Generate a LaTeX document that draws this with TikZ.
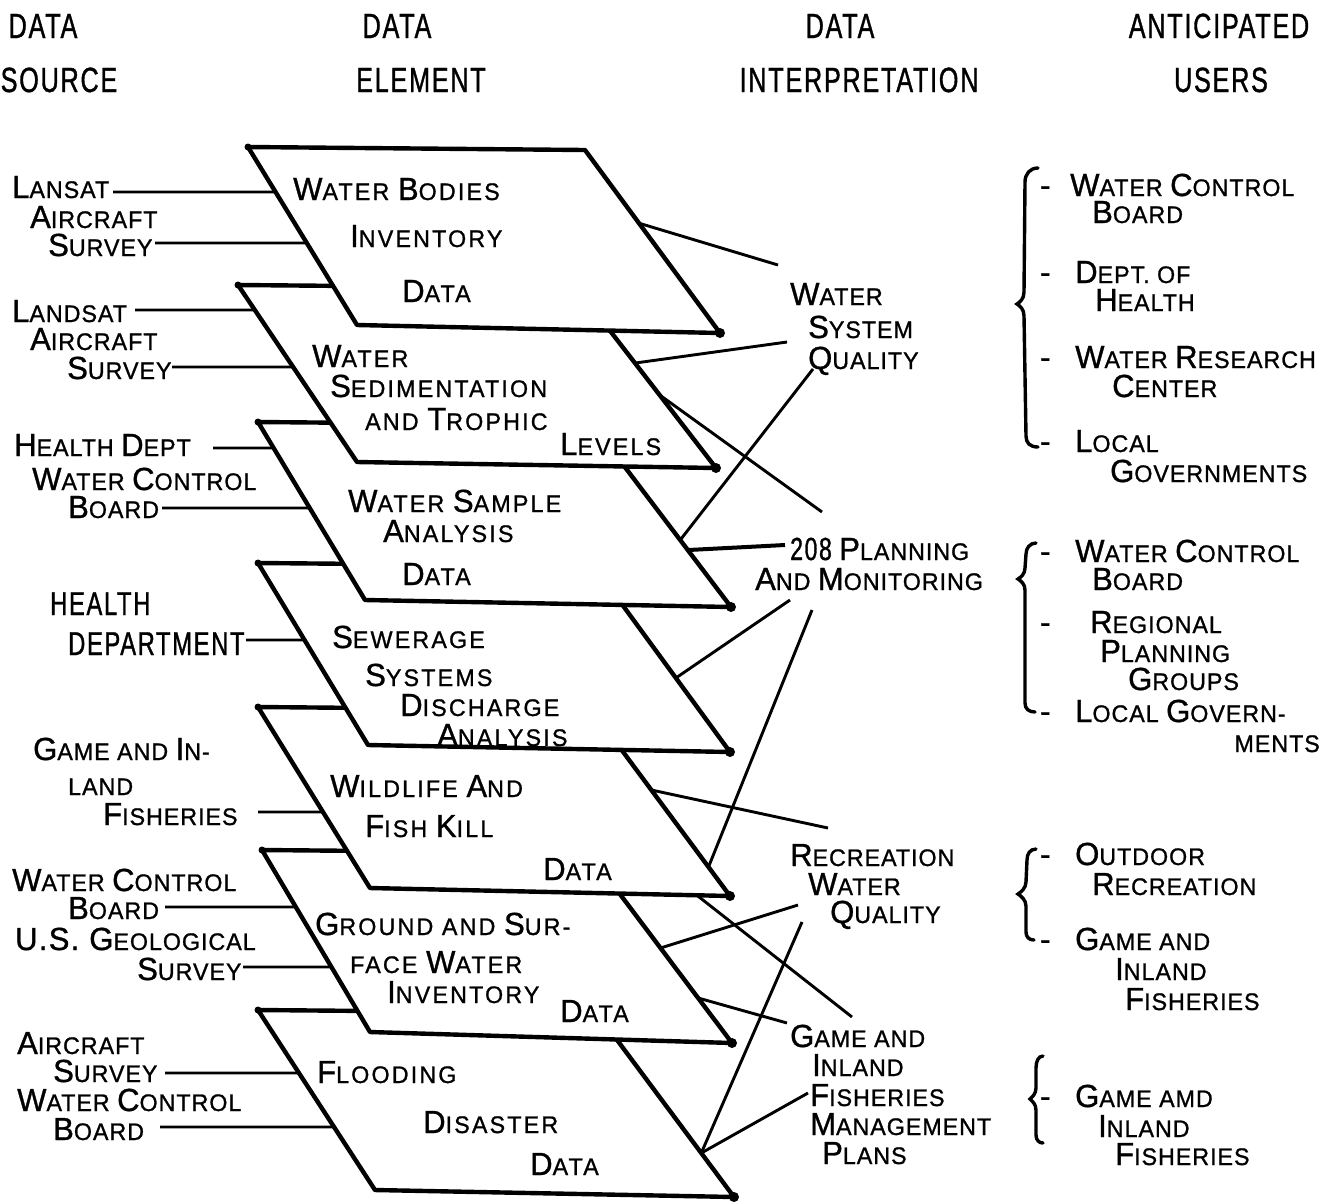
\documentclass[tikz,border=0pt]{standalone}
\usepackage{fontspec}
\setmainfont{Liberation Sans}[FakeStretch=0.97, LetterSpace=4, FakeBold=1]
\newfontfamily\spfont{Liberation Sans}[FakeStretch=0.97, LetterSpace=9, FakeBold=1]
\newfontfamily\hdrfont{Liberation Sans}[FakeStretch=0.72, LetterSpace=5, FakeBold=1]
\usetikzlibrary{calc}
\newcommand\Bg[1]{{\fontsize{32}{32}\selectfont #1}}
\tikzset{
 lbl/.style={anchor=base west, inner sep=0pt, font=\fontsize{24}{24}\selectfont},
 lbls/.style={anchor=base west, inner sep=0pt, font=\spfont\fontsize{24}{24}\selectfont},
 lblr/.style={anchor=base east, inner sep=0pt, font=\fontsize{24}{24}\selectfont},
 hdr/.style={anchor=base, inner sep=0pt, font=\hdrfont\fontsize{35}{35}\selectfont},
 hdrl/.style={anchor=base west, inner sep=0pt, font=\hdrfont\fontsize{33}{33}\selectfont},
 sheet/.style={draw, fill=white, line width=4.4pt, line join=round},
 conn/.style={line width=2.9pt},
 src/.style={line width=2.9pt},
 brk/.style={line width=3.4pt, line cap=round},
}
\begin{document}
\begin{tikzpicture}[x=1pt,y=-1pt]
\useasboundingbox (0,0) rectangle (1327,1203);
% ---------- headers
\node[hdr] (hsrc1) at (43,38) {DATA};
\node[hdr] (hsrc2) at (59,92) {SOURCE};
\node[hdr] (hel1) at (397,38) {DATA};
\node[hdr] (hel2) at (421,92) {ELEMENT};
\node[hdr] (hin1) at (840,38) {DATA};
\node[hdr] (hin2) at (859,92) {INTERPRETATION};
\node[hdr] (hus1) at (1219,38) {ANTICIPATED};
\node[hdr] (hus2) at (1221,92) {USERS};
% ---------- sheet corners
\coordinate (s1tl) at (248,147);  \coordinate (s1tr) at (585,150);  \coordinate (s1br) at (720,333);  \coordinate (s1bl) at (357,325);
\coordinate (s2tl) at (238,285);  \coordinate (s2tr) at (577,288);  \coordinate (s2br) at (716,468);  \coordinate (s2bl) at (357,462);
\coordinate (s3tl) at (258,422);  \coordinate (s3tr) at (593,425);  \coordinate (s3br) at (731,607);  \coordinate (s3bl) at (365,600);
\coordinate (s4tl) at (258,563);  \coordinate (s4tr) at (594,566);  \coordinate (s4br) at (730,752);  \coordinate (s4bl) at (368,745);
\coordinate (s5tl) at (258,707);  \coordinate (s5tr) at (592,710);  \coordinate (s5br) at (730,896);  \coordinate (s5bl) at (370,888);
\coordinate (s6tl) at (262,850);  \coordinate (s6tr) at (589,853);  \coordinate (s6br) at (732,1043); \coordinate (s6bl) at (370,1032);
\coordinate (s7tl) at (258,1010); \coordinate (s7tr) at (597,1013); \coordinate (s7br) at (734,1197); \coordinate (s7bl) at (375,1190);
% ---------- sheets, back to front
\foreach \s in {7,6,5,4,3,2,1}{
  \draw[sheet] (s\s tl) -- (s\s tr) -- (s\s br) -- (s\s bl) -- cycle;
  \fill (s\s br) circle (5);
  \fill (s\s tl) circle (3.5);
}
% ---------- sheet texts
\node[lbls] (e1a) at (293,200) {\Bg{W}ATER \Bg{B}ODIES};
\node[lbls] (e1b) at (350,247) {\Bg{I}NVENTORY};
\node[lbls] (e1c) at (402,302) {\Bg{D}ATA};
\node[lbls] (e2a) at (312,367) {\Bg{W}ATER};
\node[lbls] (e2b) at (330,397) {\Bg{S}EDIMENTATION};
\node[lbls] (e2c) at (365,430) {AND \Bg{T}ROPHIC};
\node[lbls] (e2d) at (560,455) {\Bg{L}EVELS};
\node[lbls] (e3a) at (348,512) {\Bg{W}ATER \Bg{S}AMPLE};
\node[lbls] (e3b) at (383,542) {\Bg{A}NALYSIS};
\node[lbls] (e3c) at (402,585) {\Bg{D}ATA};
\node[lbls] (e4a) at (332,648) {\Bg{S}EWERAGE};
\node[lbls] (e4b) at (365,686) {\Bg{S}YSTEMS};
\node[lbls] (e4c) at (400,716) {\Bg{D}ISCHARGE};
\node[lbls] (e4d) at (437,746) {\Bg{A}NALYSIS};
\node[lbls] (e5a) at (330,797) {\Bg{W}ILDLIFE \Bg{A}ND};
\node[lbls] (e5b) at (365,837) {\Bg{F}ISH \Bg{K}ILL};
\node[lbls] (e5c) at (543,880) {\Bg{D}ATA};
\node[lbls] (e6a) at (315,935) {\Bg{G}ROUND AND \Bg{S}UR-};
\node[lbls] (e6b) at (350,973) {FACE \Bg{W}ATER};
\node[lbls] (e6c) at (387,1003) {\Bg{I}NVENTORY};
\node[lbls] (e6d) at (560,1022) {\Bg{D}ATA};
\node[lbls] (e7a) at (317,1083) {\Bg{F}LOODING};
\node[lbls] (e7b) at (423,1133) {\Bg{D}ISASTER};
\node[lbls] (e7c) at (530,1175) {\Bg{D}ATA};
% ---------- data sources
\node[lbl] (d1a) at (12,198) {\Bg{L}ANSAT};
\node[lbl] (d1b) at (30,228) {\Bg{A}IRCRAFT};
\node[lbl] (d1c) at (48,256) {\Bg{S}URVEY};
\node[lbl] (d2a) at (12,322) {\Bg{L}ANDSAT};
\node[lbl] (d2b) at (30,350) {\Bg{A}IRCRAFT};
\node[lbl] (d2c) at (67,379) {\Bg{S}URVEY};
\node[lbl] (d3a) at (14,456) {\Bg{H}EALTH \Bg{D}EPT};
\node[lbl] (d3b) at (32,490) {\Bg{W}ATER \Bg{C}ONTROL};
\node[lbl] (d3c) at (68,518) {\Bg{B}OARD};
\node[hdrl] (d4a) at (50,615) {HEALTH};
\node[hdrl] (d4b) at (68,655) {DEPARTMENT};
\node[lbl] (d5a) at (33,760) {\Bg{G}AME AND \Bg{I}N-};
\node[lbl] (d5b) at (68,795) {LAND};
\node[lbl] (d5c) at (103,825) {\Bg{F}ISHERIES};
\node[lbl] (d6a) at (12,891) {\Bg{W}ATER \Bg{C}ONTROL};
\node[lbl] (d6b) at (68,919) {\Bg{B}OARD};
\node[lbl] (d6c) at (15,950) {\Bg{U.S. G}EOLOGICAL};
\node[lbl] (d6d) at (137,980) {\Bg{S}URVEY};
\node[lbl] (d7a) at (17,1054) {\Bg{A}IRCRAFT};
\node[lbl] (d7b) at (53,1082) {\Bg{S}URVEY};
\node[lbl] (d7c) at (17,1111) {\Bg{W}ATER \Bg{C}ONTROL};
\node[lbl] (d7d) at (53,1140) {\Bg{B}OARD};
% ---------- source lines to sheet edges
\draw[src] (113,192) -- ($(s1tl)!0.253!(s1bl)$);
\draw[src] (155,243) -- ($(s1tl)!0.539!(s1bl)$);
\draw[src] (135,310) -- ($(s2tl)!0.141!(s2bl)$);
\draw[src] (172,367) -- ($(s2tl)!0.463!(s2bl)$);
\draw[src] (213,448) -- ($(s3tl)!0.146!(s3bl)$);
\draw[src] (162,508) -- ($(s3tl)!0.483!(s3bl)$);
\draw[src] (246,640) -- ($(s4tl)!0.423!(s4bl)$);
\draw[src] (258,812) -- ($(s5tl)!0.580!(s5bl)$);
\draw[src] (165,907) -- ($(s6tl)!0.313!(s6bl)$);
\draw[src] (243,967) -- ($(s6tl)!0.643!(s6bl)$);
\draw[src] (165,1073) -- ($(s7tl)!0.350!(s7bl)$);
\draw[src] (160,1127) -- ($(s7tl)!0.650!(s7bl)$);
% ---------- interpretation labels
\node[lbl] (i1a) at (790,305) {\Bg{W}ATER};
\node[lbl] (i1b) at (808,338) {\Bg{S}YSTEM};
\node[lbl] (i1c) at (808,369) {\Bg{Q}UALITY};
\node[lbl] (i2a) at (790,560) {{\hdrfont\fontsize{32}{32}\selectfont 208} \Bg{P}LANNING};
\node[lbl] (i2b) at (755,590) {\Bg{A}ND \Bg{M}ONITORING};
\node[lbl] (i3a) at (790,866) {\Bg{R}ECREATION};
\node[lbl] (i3b) at (808,895) {\Bg{W}ATER};
\node[lbl] (i3c) at (830,923) {\Bg{Q}UALITY};
\node[lbl] (i4a) at (790,1047) {\Bg{G}AME AND};
\node[lbl] (i4b) at (812,1076) {\Bg{I}NLAND};
\node[lbl] (i4c) at (810,1106) {\Bg{F}ISHERIES};
\node[lbl] (i4d) at (810,1135) {\Bg{M}ANAGEMENT};
\node[lbl] (i4e) at (822,1164) {\Bg{P}LANS};
% connector end points at the interpretation labels
\coordinate (wsqA) at (778,265);
\coordinate (wsqB) at (787,342);
\coordinate (wsqC) at (813,369);
\coordinate (pmA) at (822,512);
\coordinate (pmB) at (785,545);
\coordinate (pmC) at (790,600);
\coordinate (pmD) at (812,610);
\coordinate (rwqA) at (828,828);
\coordinate (rwqB) at (798,905);
\coordinate (rwqC) at (802,922);
\coordinate (gifA) at (852,1017);
\coordinate (gifB) at (787,1023);
\coordinate (gifC) at (808,1093);
% ---------- connectors
\draw[conn] ($(s1tr)!0.40!(s1br)$) -- (wsqA);
\draw[conn] ($(s2tr)!0.417!(s2br)$) -- (wsqB);
\draw[conn] ($(s2tr)!0.594!(s2br)$) -- (pmA);
\draw[conn] ($(s3tr)!0.632!(s3br)$) -- (wsqC);
\draw[conn, line width=4pt] ($(s3tr)!0.687!(s3br)$) -- (pmB);
\draw[conn] ($(s4tr)!0.602!(s4br)$) -- (pmC);
\draw[conn] ($(s5tr)!0.844!(s5br)$) -- (pmD);
\draw[conn] ($(s5tr)!0.43!(s5br)$) -- (rwqA);
\draw[conn] ($(s6tr)!0.5!(s6br)$) -- (rwqB);
\draw[conn] ($(s5bl)!0.908!(s5br)$) -- (gifA);
\draw[conn] ($(s6tr)!0.763!(s6br)$) -- (gifB);
\draw[conn] ($(s7tr)!0.761!(s7br)$) -- (rwqC);
\draw[conn] ($(s7tr)!0.761!(s7br)$) -- (gifC);
% ---------- anticipated users
\node[lbl] (u1a) at (1070,196) {\Bg{W}ATER \Bg{C}ONTROL};
\node[lbl] (u1b) at (1092,223) {\Bg{B}OARD};
\node[lbl] (u2a) at (1075,283) {\Bg{D}EPT. OF};
\node[lbl] (u2b) at (1095,311) {\Bg{H}EALTH};
\node[lbl] (u3a) at (1075,368) {\Bg{W}ATER \Bg{R}ESEARCH};
\node[lbl] (u3b) at (1112,397) {\Bg{C}ENTER};
\node[lbl] (u4a) at (1075,452) {\Bg{L}OCAL};
\node[lbl] (u4b) at (1110,482) {\Bg{G}OVERNMENTS};
\node[lbl] (u5a) at (1075,562) {\Bg{W}ATER \Bg{C}ONTROL};
\node[lbl] (u5b) at (1092,590) {\Bg{B}OARD};
\node[lbl] (u6a) at (1090,633) {\Bg{R}EGIONAL};
\node[lbl] (u6b) at (1100,662) {\Bg{P}LANNING};
\node[lbl] (u6c) at (1128,690) {\Bg{G}ROUPS};
\node[lbl] (u7a) at (1075,722) {\Bg{L}OCAL \Bg{G}OVERN-};
\node[lblr] (u7b) at (1320,752) {MENTS};
\node[lbl] (u8a) at (1075,865) {\Bg{O}UTDOOR};
\node[lbl] (u8b) at (1092,895) {\Bg{R}ECREATION};
\node[lbl] (u9a) at (1075,950) {\Bg{G}AME AND};
\node[lbl] (u9b) at (1115,980) {\Bg{I}NLAND};
\node[lbl] (u9c) at (1125,1010) {\Bg{F}ISHERIES};
\node[lbl] (u10a) at (1075,1107) {\Bg{G}AME AMD};
\node[lbl] (u10b) at (1098,1137) {\Bg{I}NLAND};
\node[lbl] (u10c) at (1115,1165) {\Bg{F}ISHERIES};
% dashes
\foreach \n/\yy in {1/196,2/283,3/368,4/452,5/562,6/633,7/722,8/865,9/950,10/1107}{
  \node[lbl] (dash\n) at (1040,\yy) {\Bg{-}};
}
% brackets
\draw[brk] (1038,168) .. controls (1030,168) and (1025,174) .. (1025,182) -- (1024,292)
  .. controls (1024,299) and (1020,302) .. (1017,304) .. controls (1020,306) and (1024,309) .. (1024,316)
  -- (1026,436) .. controls (1026,443) and (1030,447) .. (1038,447);
\draw[brk] (1036,543) .. controls (1030,543) and (1026,548) .. (1026,554) -- (1025,568)
  .. controls (1025,574) and (1021,577) .. (1018,579) .. controls (1021,581) and (1025,584) .. (1025,590)
  -- (1025,703) .. controls (1025,709) and (1029,712) .. (1035,712);
\draw[brk] (1036,849) .. controls (1030,849) and (1027,854) .. (1027,860) -- (1026,882)
  .. controls (1026,888) and (1021,892) .. (1018,894) .. controls (1021,896) and (1026,900) .. (1026,906)
  -- (1026,932) .. controls (1026,937) and (1029,940) .. (1034,940);
\draw[brk] (1043,1056) .. controls (1038,1056) and (1036,1062) .. (1036,1068) -- (1036,1088)
  .. controls (1036,1094) and (1032,1097) .. (1030,1099) .. controls (1032,1101) and (1036,1104) .. (1036,1110)
  -- (1036,1135) .. controls (1036,1140) and (1039,1143) .. (1043,1143);
\end{tikzpicture}
\end{document}
